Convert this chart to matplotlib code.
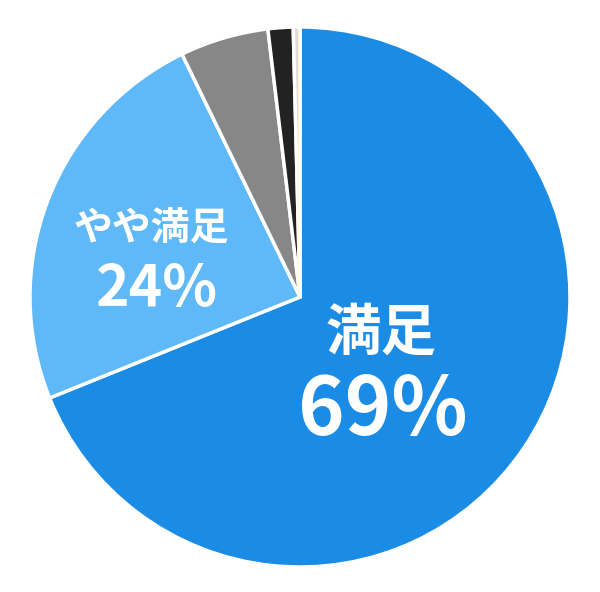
import matplotlib.pyplot as plt

labels = ['満足', 'やや満足', 'どちらとも', 'やや不満', '不満']
values = [68.9, 23.9, 5.3, 1.5, 0.4]
colors = ['#1a8ce6', '#5fb8f7', '#878787', '#222222', '#dddddd']

plt.rcParams['font.family'] = ['Noto Sans CJK JP', 'DejaVu Sans']

fig = plt.figure(figsize=(6, 5.92), dpi=100)
ax = fig.add_axes([0, 0, 1, 1])

ax.pie(values, colors=colors, startangle=90, counterclock=False,
       radius=270, center=(300, 295),
       wedgeprops=dict(edgecolor='white', linewidth=2.5))

# pie() resets limits, so fix them afterwards
ax.set_xlim(0, 600)
ax.set_ylim(0, 592)
ax.set_aspect('equal')
ax.axis('off')

# labels for the two big slices
ax.text(381, 592 - 334, labels[0], ha='center', va='center',
        color='white', fontsize=40, fontweight='bold')
ax.text(383, 592 - 411, '%d%%' % round(values[0]), ha='center', va='center',
        color='white', fontsize=57, fontweight='bold')
ax.text(151, 592 - 228, labels[1], ha='center', va='center',
        color='white', fontsize=28, fontweight='bold')
ax.text(157, 592 - 290, '%d%%' % round(values[1]), ha='center', va='center',
        color='white', fontsize=41, fontweight='bold')

fig.savefig('out.png', dpi=100)
